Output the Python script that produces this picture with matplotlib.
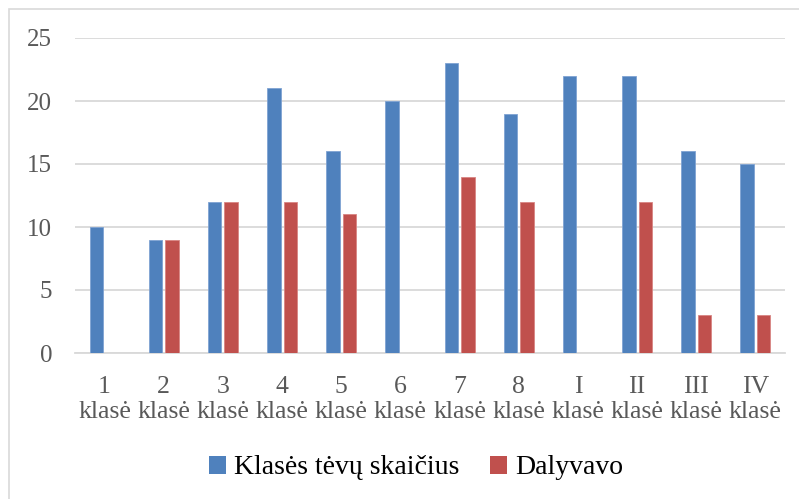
import matplotlib
matplotlib.use("Agg")
import matplotlib.pyplot as plt
import numpy as np
from matplotlib.patches import Rectangle

categories = ["1\nklasė", "2\nklasė", "3\nklasė", "4\nklasė", "5\nklasė", "6\nklasė",
              "7\nklasė", "8\nklasė", "I\nklasė", "II\nklasė", "III\nklasė", "IV\nklasė"]
parents = [10, 9, 12, 21, 16, 20, 23, 19, 22, 22, 16, 15]
participated = [np.nan, 9, 12, 12, 11, np.nan, 14, 12, np.nan, 12, 3, 3]
series_names = ["Klasės tėvų skaičius", "Dalyvavo"]
yticks = [0, 5, 10, 15, 20, 25]

blue = "#4F81BD"
red = "#C0504D"
grid = "#D9D9D9"
txt = "#595959"
serif = ["Liberation Serif", "DejaVu Serif"]

fig = plt.figure(figsize=(7.99, 4.99), dpi=100)
W, H = 799, 499
ax = fig.add_axes([75 / W, 1 - 353 / H, (785 - 75) / W, (353 - 38) / H])

x = np.arange(len(categories))
bw = 0.228
gap = 0.05
ax.bar(x - (bw + gap) / 2, parents, bw, color=blue, edgecolor="#7FA3D3", linewidth=0.6,
       label=series_names[0], zorder=3)
ax.bar(x + (bw + gap) / 2, participated, bw, color=red, edgecolor="#D88583", linewidth=0.6,
       label=series_names[1], zorder=3)

ax.set_xlim(-0.5, len(categories) - 0.5)
ax.set_ylim(0, 25)
ax.set_yticks(yticks)
ax.set_xticks(x)
ax.set_xticklabels(categories, family=serif, fontsize=18.5, color=txt, linespacing=1.2)
for lab in ax.get_yticklabels():
    lab.set_family(serif)
    lab.set_fontsize(18)
    lab.set_color(txt)
ax.tick_params(axis="both", length=0)
ax.tick_params(axis="x", pad=16.5)
ax.tick_params(axis="y", pad=16.5)
ax.grid(axis="y", color=grid, linewidth=1.3, zorder=0)
for s in ["top", "right", "left"]:
    ax.spines[s].set_visible(False)
ax.spines["bottom"].set_color(grid)
ax.spines["bottom"].set_linewidth(1.3)

leg = fig.legend(loc="center", bbox_to_anchor=(416 / W, 1 - 468 / H), ncol=2, frameon=False,
                 prop={"family": serif, "size": 20}, handlelength=0.6, handleheight=0.6,
                 handletextpad=0.3, columnspacing=1.1)
for h in leg.legend_handles:
    h.set_edgecolor("none")

fig.patches.append(Rectangle((9 / W, -0.1), 2.0, 1 - 8.5 / H + 0.1, transform=fig.transFigure,
                             fill=False, edgecolor="#D9D9D9", linewidth=1.2))

fig.savefig("out.png", dpi=100)
